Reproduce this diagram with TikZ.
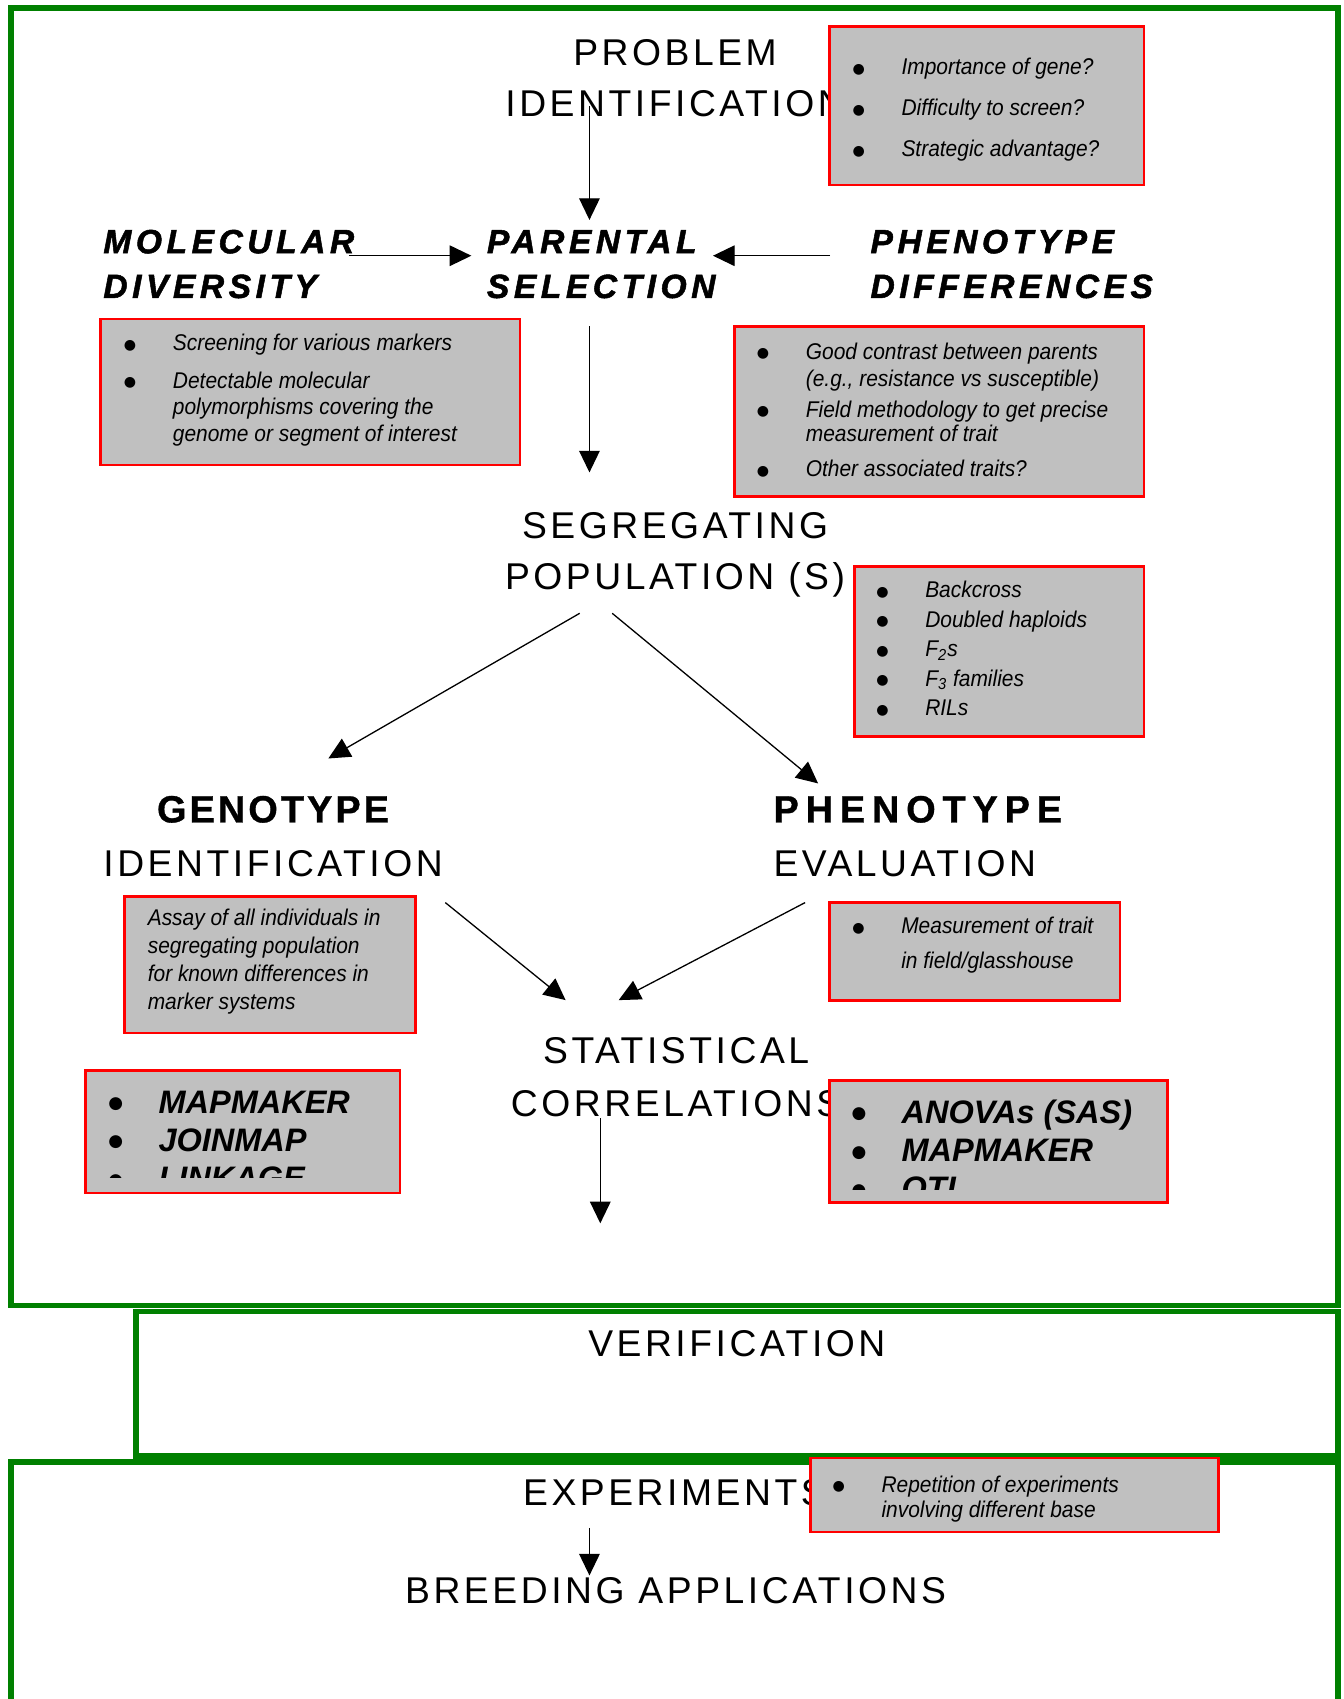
\documentclass[tikz,border=0pt]{standalone}
\usepackage{fontspec}
\setmainfont{Liberation Sans}
\newfontfamily\headfont{Liberation Sans}[LetterSpace=9.5]
\newfontfamily\widefont{Liberation Sans}[LetterSpace=13.5, FakeBold=1.5]
\newfontfamily\genofont{Liberation Sans}[LetterSpace=8, FakeBold=0.8]
\newfontfamily\phenofont{Liberation Sans}[LetterSpace=18, FakeBold=0.8]
\newfontfamily\boxfont{Liberation Sans}[FakeStretch=0.92]
\newfontfamily\dotfont{DejaVu Sans}
\usetikzlibrary{arrows.meta, fit}
\definecolor{framegreen}{HTML}{008000}
\definecolor{boxgray}{HTML}{C0C0C0}
\newcommand{\bul}{\makebox[22pt][l]{\hspace*{-0.6pt}\raisebox{0.6pt}{\dotfont\upshape\fontsize{6.5pt}{0pt}\selectfont ●}}}
\newcommand{\bigbul}{\makebox[22.5pt][l]{\hspace*{-0.6pt}\raisebox{2pt}{\dotfont\upshape\fontsize{7.8pt}{0pt}\selectfont ●}}}
\newcommand{\nobul}{\hspace*{22pt}}

\begin{document}
\begin{tikzpicture}[x=0.5pt, y=-0.5pt,
	heading/.style={inner sep=0, font=\headfont\fontsize{17.2pt}{#1pt}\selectfont},
	wideheading/.style={inner sep=0, anchor=base west, font=\widefont\bfseries\itshape\fontsize{15.5pt}{20.65pt}\selectfont},
	infobox/.style={draw=red, fill=boxgray, line width=1.2pt, inner sep=0, outer sep=0},
	infotext/.style={inner sep=0, anchor=base west, font=\boxfont\itshape\fontsize{10.5pt}{#1pt}\selectfont},
	infobold/.style={inner sep=0, anchor=base west, font=\bfseries\itshape\fontsize{15pt}{#1pt}\selectfont},
	greenframe/.style={draw=framegreen, line width=2.6pt},
	link/.style={-{Triangle[length=10pt, width=9.5pt]}, line width=0.6pt}]
	\useasboundingbox (0,0) rectangle (1240,1568);
	\fill[white] (0,0) rectangle (1240,1568);

	\draw[greenframe] (9.9,7.2) rectangle (1235,1204.8);
	\draw[greenframe] (125.4,1210.2) rectangle (1235,1343.6);
	\draw[greenframe] (9.9,1580) |- (1235,1349) -- (1235,1580);

	\node[heading=23.8, anchor=base] (prob) at (623,60) {\begin{tabular}[t]{@{}c@{}}PROBLEM\\IDENTIFICATION\end{tabular}};
	\node[wideheading] (molec) at (95,233.7) {\begin{tabular}[t]{@{}l@{}}MOLECULAR\\DIVERSITY\end{tabular}};
	\node[wideheading] (parent) at (449,233.7) {\begin{tabular}[t]{@{}l@{}}PARENTAL\\SELECTION\end{tabular}};
	\node[wideheading] (phend) at (803,233.7) {\begin{tabular}[t]{@{}l@{}}PHENOTYPE\\DIFFERENCES\end{tabular}};
	\node[heading=23.8, anchor=base] (segr) at (623,496.7) {\begin{tabular}[t]{@{}c@{}}SEGREGATING\\POPULATION (S)\end{tabular}};
	\node[heading=24.9, anchor=base] (geno) at (252,759) {\begin{tabular}[t]{@{}c@{}}{\genofont\bfseries\fontsize{17.5pt}{24.9pt}\selectfont GENOTYPE}\\IDENTIFICATION\end{tabular}};
	\node[heading=24.9, anchor=base west] (pheno) at (713.5,759) {\begin{tabular}[t]{@{}l@{}}{\phenofont\bfseries\fontsize{17.5pt}{24.9pt}\selectfont PHENOTYPE}\\EVALUATION\end{tabular}};
	\node[heading=24.3, anchor=base] (stat) at (624,981.6) {\begin{tabular}[t]{@{}c@{}}STATISTICAL\\CORRELATIONS\end{tabular}};
	\node[heading=24, anchor=base] (verif) at (680,1251.7) {VERIFICATION};
	\node[heading=24, anchor=base west] (exper) at (482.4,1389.4) {EXPERIMENTS};
	\node[heading=24, anchor=base] (breed) at (623.5,1479.9) {BREEDING APPLICATIONS};

	\node[infobox, fit={(765.5,24.6) (1055.7,170.7)}] (probbox) {};
	\node[infotext=18.85] at ([shift={(22.1,44.6)}]probbox.north west) {\begin{tabular}[t]{@{}l@{}}\bul Importance of gene?\\\bul Difficulty to screen?\\\bul Strategic advantage?\end{tabular}};
	\node[infobox, fit={(92.5,294.3) (480,429)}] (molbox) {};
	\node[infotext=12.3] at ([shift={(22.7,29.2)}]molbox.north west) {\begin{tabular}[t]{@{}l@{}}\bul Screening for various markers\\[5.1pt]\bul Detectable molecular\\\nobul polymorphisms covering the\\\nobul genome or segment of interest\end{tabular}};
	\node[infobox, fit={(677.7,301.4) (1055.7,458.2)}] (phendbox) {};
	\node[infotext=11.25] at ([shift={(21.6,30.1)}]phendbox.north west) {\begin{tabular}[t]{@{}l@{}}\bul Good contrast between parents\\[1.35pt]\nobul (e.g., resistance vs susceptible)\\[2.9pt]\bul Field methodology to get precise\\\nobul measurement of trait\\[4.9pt]\bul Other associated traits?\end{tabular}};
	\node[infobox, fit={(788.4,522.8) (1055.7,679.6)}] (popbox) {};
	\node[infotext=13.65] at ([shift={(21.1,28.6)}]popbox.north west) {\begin{tabular}[t]{@{}l@{}}\bul Backcross\\\bul Doubled haploids\\\bul F\textsubscript{2}s\\\bul F\textsubscript{3} families\\\bul RILs\end{tabular}};
	\node[infobox, fit={(114.7,827.3) (383.5,953.3)}] (assaybox) {};
	\node[infotext=12.9] at ([shift={(21.3,27)}]assaybox.north west) {\begin{tabular}[t]{@{}l@{}}Assay of all individuals in\\segregating population\\for known differences in\\marker systems\end{tabular}};
	\node[infobox, fit={(765.5,832.8) (1033.6,923.2)}] (measbox) {};
	\node[infotext=15.85] at ([shift={(21.9,28.9)}]measbox.north west) {\begin{tabular}[t]{@{}l@{}}\bul Measurement of trait\\\nobul in field/glasshouse\end{tabular}};
	\node[infobox, fit={(79,988) (369,1101)}] (mapbox) {};
	\begin{scope}
		\clip (mapbox.north west) rectangle ([shift={(0,-14)}]mapbox.south east);
		\node[infobold=17.65] at ([shift={(21.9,39.2)}]mapbox.north west) {\begin{tabular}[t]{@{}l@{}}\bigbul MAPMAKER\\\bigbul JOINMAP\\\bigbul LINKAGE\end{tabular}};
	\end{scope}
	\node[infobox, fit={(765.8,997) (1077.3,1109.6)}] (anovabox) {};
	\begin{scope}
		\clip (anovabox.north west) rectangle ([shift={(0,-11.7)}]anovabox.south east);
		\node[infobold=17.7] at ([shift={(20.9,39.4)}]anovabox.north west) {\begin{tabular}[t]{@{}l@{}}\bigbul ANOVAs (SAS)\\\bigbul MAPMAKER\\\bigbul QTL\end{tabular}};
	\end{scope}
	\node[infobox, fit={(748.1,1345.5) (1124.5,1414)}] (repbox) {};
	\begin{scope}
		\clip (repbox.north west) rectangle ([shift={(0,-10)}]repbox.south east);
		\node[infotext=11.55] at ([shift={(21.1,31.6)}]repbox.north west) {\begin{tabular}[t]{@{}l@{}}\bul Repetition of experiments\\\nobul involving different base\end{tabular}};
	\end{scope}

	\draw[link] ([shift={(-79,38)}]prob.base) -- ([shift={(95,-30.7)}]parent.base west);
	\draw[link] ([shift={(227,2.3)}]molec.base west) -- ([shift={(-14,2.3)}]parent.base west);
	\draw[link] ([shift={(-37,2.3)}]phend.base west) -- ([shift={(209,2.3)}]parent.base west);
	\draw[link] ([shift={(95,67.3)}]parent.base west) -- ([shift={(-79,-60.7)}]segr.base);
	\draw[link] ([shift={(-88,69.3)}]segr.base) -- ([shift={(51,-59)}]geno.base);
	\draw[link] ([shift={(-58,69.3)}]segr.base) -- ([shift={(41.5,-36)}]pheno.base west);
	\draw[link] ([shift={(159,74)}]geno.base) -- ([shift={(-102,-58.6)}]stat.base);
	\draw[link] ([shift={(29.5,74)}]pheno.base west) -- ([shift={(-53,-58.6)}]stat.base);
	\draw[link] ([shift={(-70,50.4)}]stat.base) -- ([shift={(-126,-122.7)}]verif.base);
	\draw[link] ([shift={(61.6,20.6)}]exper.base west) -- ([shift={(-79.5,-25.9)}]breed.base);
\end{tikzpicture}
\end{document}
